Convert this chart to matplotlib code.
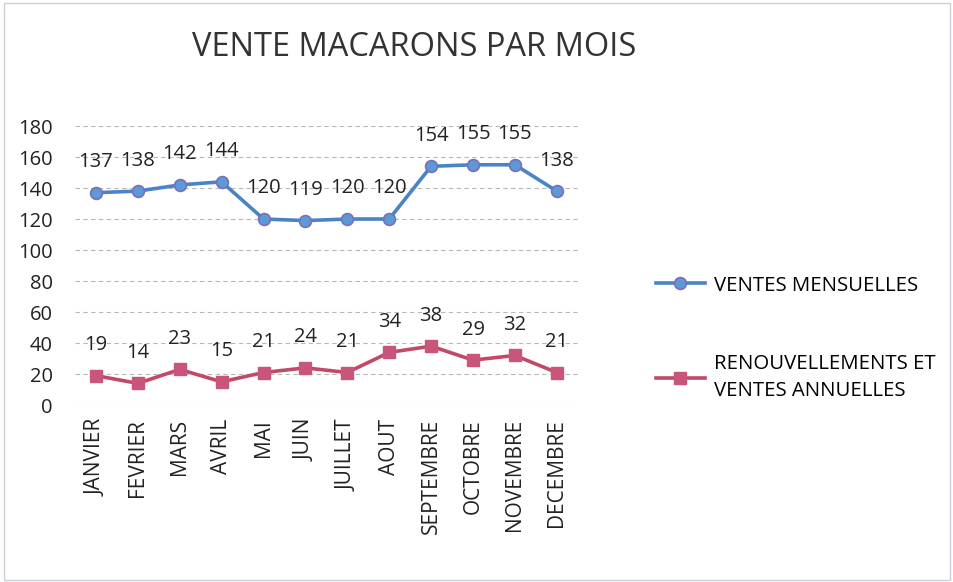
import matplotlib
matplotlib.use('Agg')
import matplotlib.pyplot as plt

plt.rcParams['font.family'] = ['Open Sans', 'DejaVu Sans']

mois = ['JANVIER', 'FEVRIER', 'MARS', 'AVRIL', 'MAI', 'JUIN', 'JUILLET',
        'AOUT', 'SEPTEMBRE', 'OCTOBRE', 'NOVEMBRE', 'DECEMBRE']
ventes_mensuelles = [137, 138, 142, 144, 120, 119, 120, 120, 154, 155, 155, 138]
renouvellements = [19, 14, 23, 15, 21, 24, 21, 34, 38, 29, 32, 21]

blue = '#4a84c6'
red = '#c24a68'
txt = '#222222'

fig = plt.figure(figsize=(9.54, 5.82), dpi=100)
ax = fig.add_axes([0.0786, 0.304, 0.527, 0.4795])

x = list(range(len(mois)))
l1, = ax.plot(x, ventes_mensuelles, color=blue, lw=2.6, marker='o', ms=8.5,
              mfc='#5b9ad6', mec='#7a6fb8', mew=1.2, label='VENTES MENSUELLES')
l2, = ax.plot(x, renouvellements, color=red, lw=2.6, marker='s', ms=9,
              mfc='#c9567a', mec='#c9567a', label='RENOUVELLEMENTS ET\nVENTES ANNUELLES')

for xi, v in zip(x, ventes_mensuelles):
    ax.annotate(str(v), (xi, v), xytext=(0, 22), textcoords='offset points',
                ha='center', va='center', fontsize=14.5, color=txt)
for xi, v in zip(x, renouvellements):
    ax.annotate(str(v), (xi, v), xytext=(0, 22), textcoords='offset points',
                ha='center', va='center', fontsize=14.5, color=txt)

ax.set_xlim(-0.5, 11.5)
ax.set_ylim(0, 180)
ax.set_yticks(range(0, 181, 20))
ax.set_xticks(x)
ax.set_xticklabels(mois, rotation=90, fontsize=15, color=txt)
ax.tick_params(axis='y', labelsize=14.5, labelcolor=txt, length=0, pad=16)
ax.tick_params(axis='x', length=0, pad=10)
ax.yaxis.grid(True, color='#b8b8b8', lw=0.8, ls=(0, (4, 3)))
ax.set_axisbelow(True)
for s in ax.spines.values():
    s.set_visible(False)

fig.text(0.434, 0.918, 'VENTE MACARONS PAR MOIS', ha='center', va='center',
         fontsize=23.5, color='#333333')

leg = fig.legend(handles=[l1, l2], loc='upper left', bbox_to_anchor=(0.668, 0.558),
                 frameon=False, fontsize=14.7, handlelength=2.4, handletextpad=0.45,
                 labelspacing=2.85)
for t in leg.get_texts():
    t.set_linespacing(1.45)

# cadre du graphique
fig.add_artist(plt.Rectangle((0.004, 0.004), 0.992, 0.99, transform=fig.transFigure,
                             fill=False, ec='#c8d0dc', lw=1))

fig.savefig('out.png', dpi=100)
